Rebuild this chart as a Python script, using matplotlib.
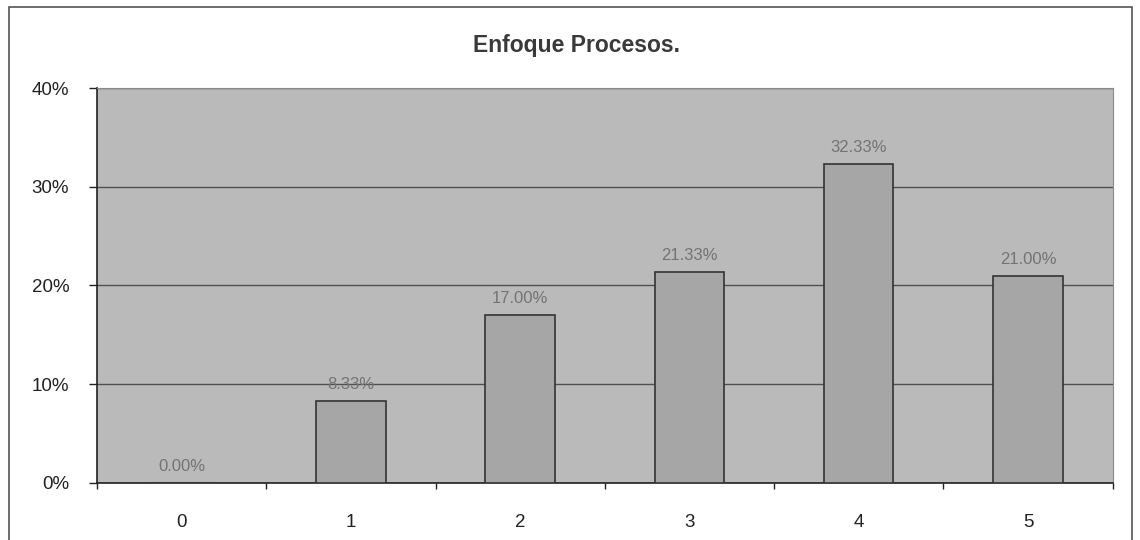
import matplotlib
matplotlib.use("Agg")
import matplotlib.pyplot as plt
from matplotlib.patches import Rectangle
from matplotlib.ticker import FuncFormatter, FixedLocator

plt.rcParams['font.family'] = ['Liberation Sans', 'DejaVu Sans']

# puntajes y porcentajes
categorias = ['0', '1', '2', '3', '4', '5']
porcentajes = [0.00, 8.33, 17.00, 21.33, 32.33, 21.00]
titulo = 'Enfoque Procesos.'

fig = plt.figure(figsize=(11.4, 5.4), dpi=100)
fig.patch.set_facecolor('white')

# marco exterior del grafico
fig.patches.append(Rectangle((0.008, -0.02), 0.985, 1.007, transform=fig.transFigure,
                             fill=False, edgecolor='#555555', linewidth=1.2))

ax = fig.add_axes([0.0851, 0.1056, 0.8909, 0.7314])
ax.set_facecolor('#bababa')

x = list(range(len(categorias)))
ax.bar(x, porcentajes, width=0.41, color='#a6a6a6', edgecolor='#333333',
       linewidth=1.2, zorder=3)

for xi, v in zip(x, porcentajes):
    ax.text(xi, v + 0.9, f'{v:.2f}%', ha='center', va='bottom',
            fontsize=12, color='#737373', zorder=4)

ax.set_xlim(-0.5, len(categorias) - 0.5)
ax.set_ylim(0, 40)
ax.set_yticks([0, 10, 20, 30, 40])
ax.yaxis.set_major_formatter(FuncFormatter(lambda v, p: f'{v:.0f}%'))
ax.yaxis.grid(True, color='#505050', linewidth=1.0, zorder=1)
ax.set_axisbelow(True)

ax.set_xticks(x)
ax.set_xticklabels(categorias)
ax.tick_params(axis='x', length=0, pad=22, labelsize=13.5, colors='#222222')
ax.xaxis.set_minor_locator(FixedLocator([i + 0.5 for i in range(-1, len(categorias))]))
ax.tick_params(axis='x', which='minor', length=4, width=1, color='#222222')
ax.tick_params(axis='y', length=6, width=1, pad=14, labelsize=13.5, colors='#222222')

for s in ['left', 'bottom']:
    ax.spines[s].set_color('#222222')
    ax.spines[s].set_linewidth(1.2)
for s in ['top', 'right']:
    ax.spines[s].set_color('#8a8a8a')
    ax.spines[s].set_linewidth(0.8)

fig.text(0.506, 0.915, titulo, ha='center', va='center', fontsize=16.5,
         fontweight='bold', color='#3a3a3a')

fig.savefig('out.png', dpi=100)
